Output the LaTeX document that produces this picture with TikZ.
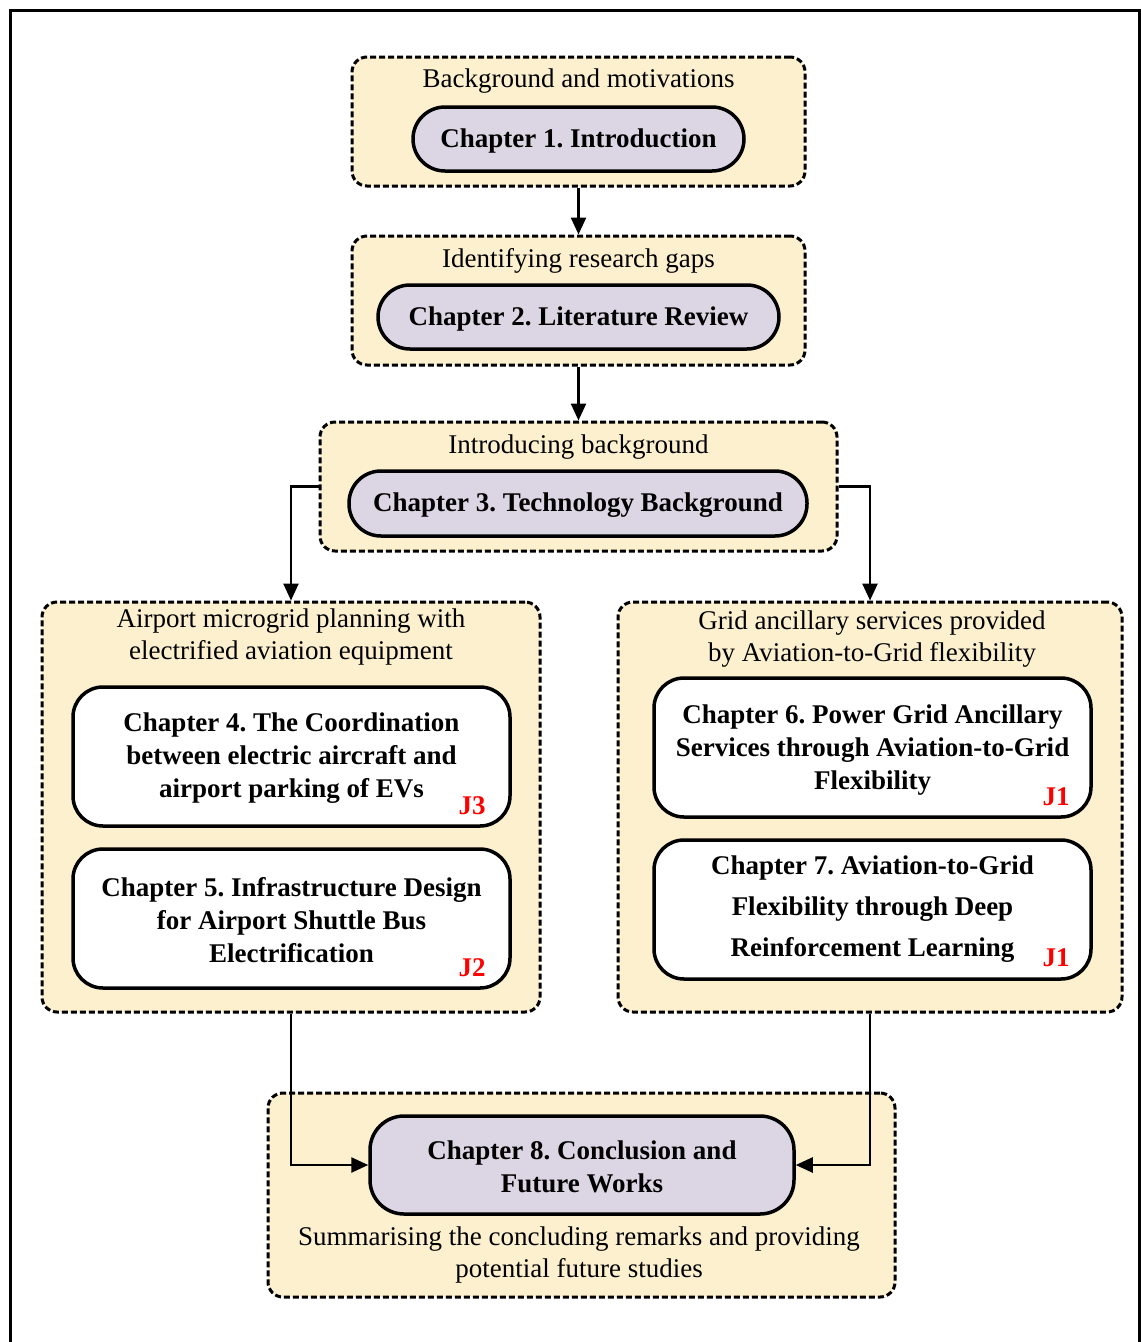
\documentclass[tikz,border=0pt]{standalone}
\usepackage{fontspec}
\setmainfont{Liberation Serif}
\usetikzlibrary{arrows.meta}
\definecolor{groupfill}{RGB}{253,240,206}
\definecolor{pillfill}{RGB}{220,214,228}
\definecolor{jred}{RGB}{255,0,0}
\frenchspacing
\begin{document}
\begin{tikzpicture}[x=1pt,y=-1pt,
  group/.style={draw=black, fill=groupfill, line width=3pt, dash pattern=on 6pt off 3pt, rounded corners=15pt, inner sep=0pt},
  pill/.style={draw=black, fill=pillfill, line width=3.5pt, inner sep=0pt},
  chbox/.style={draw=black, fill=white, line width=3.5pt, rounded corners=30pt, inner sep=0pt, minimum width=437pt, minimum height=139pt},
  chtext/.style={align=center, inner sep=0pt, yshift=-2pt, font=\fontsize{27}{33}\selectfont\bfseries},
  gtitle/.style={align=center, inner sep=0pt, font=\fontsize{27}{32}\selectfont},
  jlabel/.style={inner sep=0pt, text=jred, font=\fontsize{27}{30}\selectfont\bfseries},
  arr/.style={draw=black, line width=2.5pt, -{Triangle[length=17pt,width=15pt]}}
]
\useasboundingbox (0,0) rectangle (1141,1342);
% page frame (open at the bottom)
\draw[line width=3pt] (10,1345) -- (10,10) -- (1139,10) -- (1139,1345);

% dashed groups
\node[group, minimum width=453pt, minimum height=129pt] (g1) at (578.5,121.5) {};
\node[group, minimum width=453pt, minimum height=129pt] (g2) at (578.5,300.5) {};
\node[group, minimum width=517pt, minimum height=129pt] (g3) at (578.5,486.5) {};
\node[group, minimum width=498pt, minimum height=410pt] (g4) at (291,807) {};
\node[group, minimum width=504pt, minimum height=410pt] (g5) at (870,807) {};
\node[group, minimum width=627pt, minimum height=204pt] (g6) at (581.5,1195) {};

% connectors
\draw[arr] (g1.south) -- (g2.north);
\draw[arr] (g2.south) -- (g3.north);
\draw[arr] (g3.west) -| (g4.north);
\draw[arr] (g3.east) -| (g5.north);

% group captions
\node[gtitle] (t1) at (578.5,81) {Background and motivations};
\node[gtitle] (t2) at (578.5,261) {Identifying research gaps};
\node[gtitle] (t3) at (578.5,447) {Introducing background};
\node[gtitle] (t4) at (291,637) {Airport microgrid planning with\\electrified aviation equipment};
\node[gtitle] (t5) at (872,639) {Grid ancillary services provided\\by Aviation-to-Grid flexibility};
\node[gtitle] (t6) at (579,1255) {Summarising the concluding remarks and providing\\potential future studies};

% chapter pills
\node[pill, rounded corners=32pt, minimum width=331pt, minimum height=64pt] (c1) at (578.5,139) {};
\node[chtext] at (c1) {Chapter 1. Introduction};
\node[pill, rounded corners=32pt, minimum width=401pt, minimum height=64pt] (c2) at (578.5,317) {};
\node[chtext] at (c2) {Chapter 2. Literature Review};
\node[pill, rounded corners=32pt, minimum width=458pt, minimum height=65pt] (c3) at (578,503.5) {};
\node[chtext] at (c3) {Chapter 3. Technology Background};
\node[pill, rounded corners=34pt, minimum width=424pt, minimum height=98pt] (c8) at (582,1165) {};
\node[chtext] at (c8) {Chapter 8. Conclusion and\\Future Works};

% chapter boxes
\node[chbox] (c4) at (291.5,756.5) {};
\node[chtext] at (c4) {Chapter 4. The Coordination\\between electric aircraft and\\airport parking of EVs};
\node[jlabel] (j3) at (472,806) {J3};
\node[chbox] (c5) at (291.5,918.5) {};
\node[chtext] at (c5) {Chapter 5. Infrastructure Design\\for Airport Shuttle Bus\\Electrification};
\node[jlabel] (j2) at (472,968) {J2};
\node[chbox] (c6) at (872.5,747.5) {};
\node[chtext] at ([yshift=-1pt]c6.center) {Chapter 6. Power Grid Ancillary\\Services through Aviation-to-Grid\\Flexibility};
\node[jlabel] (j1a) at (1056,797) {J1};
\node[chbox] (c7) at (872.5,909.5) {};
\node[chtext, font=\fontsize{27}{41}\selectfont\bfseries] at ([yshift=2pt]c7.center) {Chapter 7. Aviation-to-Grid\\Flexibility through Deep\\Reinforcement Learning};
\node[jlabel] (j1b) at (1056,958) {J1};

% connectors into the conclusion
\draw[arr] (g4.south) |- (c8.west);
\draw[arr] (g5.south) |- (c8.east);
\end{tikzpicture}
\end{document}
